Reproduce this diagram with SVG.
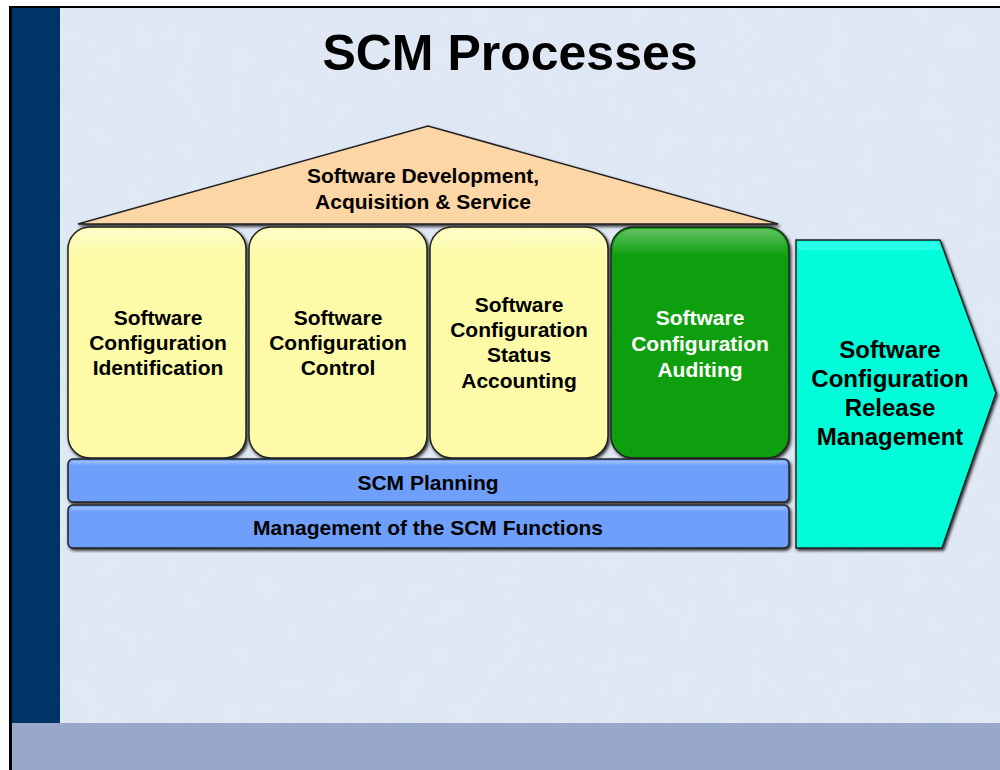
<svg xmlns="http://www.w3.org/2000/svg" width="1000" height="770" viewBox="0 0 1000 770">
  <defs>
    <filter id="shadow" x="-10%" y="-10%" width="120%" height="120%">
      <feDropShadow dx="1.5" dy="2" stdDeviation="1.4" flood-color="#000" flood-opacity="0.8"/>
    </filter>
    <filter id="mottle" x="0" y="0" width="100%" height="100%">
      <feTurbulence type="fractalNoise" baseFrequency="0.04" numOctaves="3" seed="4" result="n"/>
      <feColorMatrix in="n" type="matrix" values="0 0 0 0 0.78  0 0 0 0 0.83  0 0 0 0 0.91  0 0 0 1.6 -0.55"/>
    </filter>
    <linearGradient id="gloss" x1="0" y1="0" x2="0" y2="1">
      <stop offset="0" stop-color="#fff" stop-opacity="0.35"/>
      <stop offset="0.12" stop-color="#fff" stop-opacity="0"/>
    </linearGradient>
  </defs>
  <style>
    text { font-family: "Liberation Sans", Arial, sans-serif; font-weight: bold; text-anchor: middle; }
    .lbl { font-size: 21px; fill: #000; }
    .lblw { font-size: 21px; fill: #fff; }
    .big { font-size: 24px; fill: #000; }
    .edge { stroke: #222; stroke-width: 1.5; }
  </style>

  <!-- page frame -->
  <rect x="0" y="0" width="1000" height="770" fill="#ffffff"/>
  <rect x="9" y="6" width="991" height="764" fill="#000"/>
  <rect x="12" y="8" width="988" height="762" fill="#dee7f4"/>
  <rect x="60" y="8" width="940" height="715" filter="url(#mottle)" opacity="0.7"/>
  <rect x="12" y="8" width="48" height="715" fill="#003366"/>
  <rect x="12" y="723" width="988" height="47" fill="#98a7ca"/>

  <text x="510" y="70" font-size="50" fill="#000">SCM Processes</text>

  <!-- roof -->
  <g id="roof">
    <polygon points="78,224 428,126 778,224" fill="#fdd6a6" class="edge" filter="url(#shadow)"/>
    <text class="lbl" x="423" y="183">Software Development,</text>
    <text class="lbl" x="423" y="209">Acquisition &amp; Service</text>
  </g>

  <!-- process pillars -->
  <g id="identification">
    <rect x="68" y="227" width="178" height="231" rx="22" fill="#fdfba8" class="edge" filter="url(#shadow)"/>
    <rect x="70" y="229" width="174" height="227" rx="20" fill="url(#gloss)"/>
    <text class="lbl" x="158" y="325">Software</text>
    <text class="lbl" x="158" y="350">Configuration</text>
    <text class="lbl" x="158" y="375">Identification</text>
  </g>
  <g id="control">
    <rect x="249" y="227" width="178" height="231" rx="22" fill="#fdfba8" class="edge" filter="url(#shadow)"/>
    <rect x="251" y="229" width="174" height="227" rx="20" fill="url(#gloss)"/>
    <text class="lbl" x="338" y="325">Software</text>
    <text class="lbl" x="338" y="350">Configuration</text>
    <text class="lbl" x="338" y="375">Control</text>
  </g>
  <g id="status-accounting">
    <rect x="430" y="227" width="178" height="231" rx="22" fill="#fdfba8" class="edge" filter="url(#shadow)"/>
    <rect x="432" y="229" width="174" height="227" rx="20" fill="url(#gloss)"/>
    <text class="lbl" x="519" y="312">Software</text>
    <text class="lbl" x="519" y="337">Configuration</text>
    <text class="lbl" x="519" y="362">Status</text>
    <text class="lbl" x="519" y="388">Accounting</text>
  </g>
  <g id="auditing">
    <rect x="611" y="227" width="178" height="231" rx="22" fill="#079f07" class="edge" filter="url(#shadow)"/>
    <rect x="613" y="229" width="174" height="227" rx="20" fill="url(#gloss)"/>
    <text class="lblw" x="700" y="325">Software</text>
    <text class="lblw" x="700" y="351">Configuration</text>
    <text class="lblw" x="700" y="377">Auditing</text>
  </g>

  <!-- foundation bars -->
  <g id="planning">
    <rect x="68" y="459" width="721" height="43" rx="5" fill="#6ea0fb" class="edge" filter="url(#shadow)"/>
    <rect x="70" y="461" width="717" height="39" rx="4" fill="url(#gloss)"/>
    <text class="lbl" x="428" y="490">SCM Planning</text>
  </g>
  <g id="management">
    <rect x="68" y="505" width="721" height="43" rx="5" fill="#6ea0fb" class="edge" filter="url(#shadow)"/>
    <rect x="70" y="507" width="717" height="39" rx="4" fill="url(#gloss)"/>
    <text class="lbl" x="428" y="535">Management of the SCM Functions</text>
  </g>

  <!-- release management chevron -->
  <g id="release">
    <polygon points="796,240 940,240 996,393 942,548 796,548" fill="#00fcd8" class="edge" filter="url(#shadow)"/>
    <polygon points="798,242 939,242 941,250 798,250" fill="#3ffff0" opacity="0.6"/>
    <text class="big" x="890" y="358">Software</text>
    <text class="big" x="890" y="387">Configuration</text>
    <text class="big" x="890" y="416">Release</text>
    <text class="big" x="890" y="445">Management</text>
  </g>
</svg>
